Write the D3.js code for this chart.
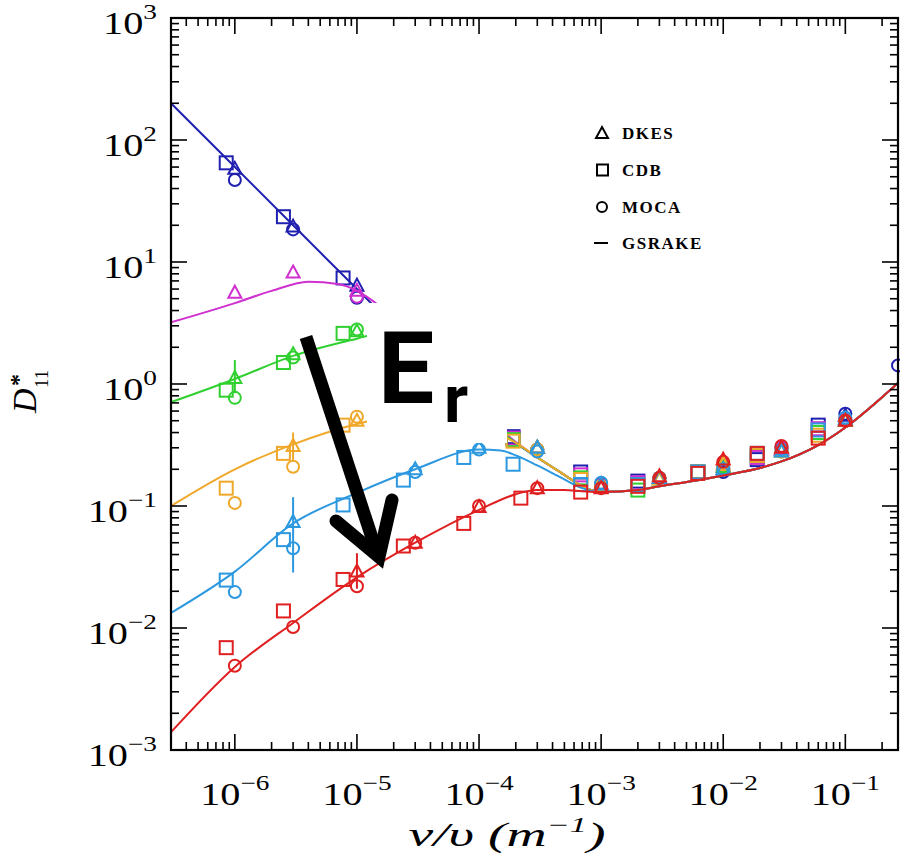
<!DOCTYPE html>
<html><head><meta charset="utf-8">
<script src="https://cdn.jsdelivr.net/npm/d3@7"></script>
<style>body{margin:0;background:#fff}svg{display:block}</style>
</head><body><svg id="c" width="900" height="861"></svg>
<script>
// ---------------- data ----------------
const xTickExps = [-6, -5, -4, -3, -2, -1];
const yTickExps = [-3, -2, -1, 0, 1, 2, 3];
const legendLabels = ["DKES", "CDB", "MOCA", "GSRAKE"];

// GSRAKE curves [nu/v, D11*]
const convergedTail = [[1e-3,0.13],[2e-3,0.135],[3e-3,0.145],[6e-3,0.162],[1e-2,0.178],[2e-2,0.205],[3e-2,0.232],[6e-2,0.316],[1e-1,0.44],[2e-1,0.78],[2.7e-1,1.02]];
const blueLine    = [[3e-7,200],[1e-6,60],[3e-6,20],[1e-5,6],[3e-5,2],[1e-4,0.6],[1.7e-4,0.38],[2e-4,0.33],[3e-4,0.25],[5e-4,0.18],[7e-4,0.145]];
const magentaLine = [[3e-7,3.2],[1e-6,4.6],[2e-6,5.8],[4e-6,6.9],[7e-6,6.6],[1e-5,5.8],[1.2e-5,5.2],[2e-5,3.5],[1e-4,0.7],[1.7e-4,0.38],[2e-4,0.335],[3e-4,0.25],[5e-4,0.18],[7e-4,0.145]];
const greenLine   = [[3e-7,0.71],[1e-6,1.1],[3e-6,1.7],[1e-5,2.35],[1.3e-5,2.5],[5e-5,1.5],[1.7e-4,0.37],[2e-4,0.33],[3e-4,0.25],[5e-4,0.18],[7e-4,0.145]];
const orangeLine  = [[3e-7,0.1],[1e-6,0.2],[3e-6,0.32],[1e-5,0.47],[1.3e-5,0.5],[5e-5,0.55],[1.7e-4,0.36],[2e-4,0.33],[3e-4,0.25],[5e-4,0.18],[7e-4,0.145]];
const cyanLine    = [[3e-7,0.0133],[1e-6,0.029],[3e-6,0.072],[1e-5,0.128],[3e-5,0.2],[1e-4,0.29],[1.5e-4,0.285],[2e-4,0.26],[3e-4,0.215],[5e-4,0.165],[7e-4,0.14]];
const redLine     = [[3e-7,0.0014],[1e-6,0.0048],[3e-6,0.011],[1e-5,0.026],[3e-5,0.05],[1e-4,0.093],[2e-4,0.125],[3e-4,0.135],[5e-4,0.135],[7e-4,0.132]];

// DKES (triangles), CDB (squares), MOCA (circles)
const blueDKES = [[1e-6,58],[3e-6,19.5],[1e-5,6.4],[3e-4,0.3],[1e-3,0.15],[3e-3,0.17],[1e-2,0.2],[3e-2,0.29],[1e-1,0.55]];
const blueCDB  = [[8.5e-7,65],[2.5e-6,23.5],[7.7e-6,7.4],[1.9e-4,0.37],[6.8e-4,0.19],[2e-3,0.16],[6.2e-3,0.19],[1.9e-2,0.24],[6e-2,0.46]];
const blueMOCA = [[1e-6,47],[3e-6,18.5],[1e-5,5.1],[3e-4,0.29],[1e-3,0.15],[3e-3,0.17],[1e-2,0.19],[3e-2,0.3],[1e-1,0.57],[2.7e-1,1.42]];

const magentaDKES = [[1e-6,5.6],[3e-6,8.2],[1e-5,5.8],[3e-4,0.3],[1e-3,0.15],[3e-3,0.17],[1e-2,0.21],[3e-2,0.29]];
const magentaCDB  = [[1.9e-4,0.36],[6.8e-4,0.18],[2e-3,0.155],[6.2e-3,0.19],[1.9e-2,0.25],[6e-2,0.43]];
const magentaMOCA = [[1e-5,5.2],[3e-4,0.29],[1e-3,0.148],[3e-3,0.17],[1e-2,0.2],[3e-2,0.3],[1e-1,0.52]];

const greenDKES = [[1e-6,1.12],[3e-6,1.75],[1e-5,2.7],[3e-4,0.3],[1e-3,0.145],[3e-3,0.165],[1e-2,0.21],[3e-2,0.28],[1e-1,0.5]];
const greenCDB  = [[8.5e-7,0.89],[2.5e-6,1.5],[7.7e-6,2.6],[1.9e-4,0.35],[6.8e-4,0.17],[2e-3,0.135],[6.2e-3,0.19],[1.9e-2,0.26],[6e-2,0.4]];
const greenMOCA = [[1e-6,0.77],[3e-6,1.65],[1e-5,2.8],[3e-4,0.29],[1e-3,0.145],[3e-3,0.17],[1e-2,0.21],[3e-2,0.28],[1e-1,0.5]];

const orangeDKES = [[3e-6,0.31],[1e-5,0.5],[3e-4,0.3],[1e-3,0.145],[3e-3,0.165],[1e-2,0.22],[3e-2,0.28]];
const orangeCDB  = [[8.5e-7,0.14],[2.5e-6,0.27],[7.7e-6,0.46],[1.9e-4,0.34],[6.8e-4,0.165],[2e-3,0.15],[6.2e-3,0.19],[1.9e-2,0.26],[6e-2,0.38]];
const orangeMOCA = [[1e-6,0.106],[3e-6,0.21],[1e-5,0.54],[3e-4,0.29],[1e-3,0.145],[3e-3,0.17],[1e-2,0.22],[3e-2,0.28],[1e-1,0.5]];

const cyanDKES = [[3e-6,0.074],[3e-5,0.2],[1e-4,0.3],[3e-4,0.3],[1e-3,0.15],[3e-3,0.17],[1e-2,0.2],[3e-2,0.28],[1e-1,0.52]];
const cyanCDB  = [[8.5e-7,0.0247],[2.5e-6,0.053],[7.7e-6,0.102],[2.4e-5,0.163],[7.5e-5,0.25],[1.9e-4,0.22],[6.8e-4,0.15],[2e-3,0.15],[6.2e-3,0.19],[1.9e-2,0.27],[6e-2,0.42]];
const cyanMOCA = [[1e-6,0.0197],[3e-6,0.045],[3e-5,0.19],[1e-4,0.29],[3e-4,0.28],[1e-3,0.155],[3e-3,0.17],[1e-2,0.2],[3e-2,0.29],[1e-1,0.53]];

const redDKES = [[1e-5,0.029],[3e-5,0.05],[1e-4,0.098],[3e-4,0.14],[1e-3,0.14],[3e-3,0.175],[1e-2,0.24],[3e-2,0.3],[1e-1,0.5]];
const redCDB  = [[8.5e-7,0.0069],[2.5e-6,0.0138],[7.7e-6,0.025],[2.4e-5,0.047],[7.5e-5,0.072],[2.2e-4,0.116],[6.8e-4,0.13],[2e-3,0.145],[6.2e-3,0.185],[1.9e-2,0.27],[6e-2,0.36]];
const redMOCA = [[1e-6,0.0049],[3e-6,0.0102],[1e-5,0.022],[3e-5,0.05],[1e-4,0.1],[3e-4,0.14],[1e-3,0.14],[3e-3,0.17],[1e-2,0.23],[3e-2,0.31],[1e-1,0.5]];

// error bars on DKES points [nu, low, high]
const greenErr  = [[1e-6,0.84,1.57]];
const orangeErr = [[3e-6,0.235,0.40]];
const cyanErr   = [[3e-6,0.0285,0.118]];
const redErr    = [[1e-5,0.021,0.041]];

const seriesColors = ["#2020b0","#d030d0","#30d030","#efa82a","#2c98e0","#e02020"];

const series = [
  {color: seriesColors[0], line: blueLine,    dkes: blueDKES,    cdb: blueCDB,    moca: blueMOCA,    err: []},
  {color: seriesColors[1], line: magentaLine, dkes: magentaDKES, cdb: magentaCDB, moca: magentaMOCA, err: []},
  {color: seriesColors[2], line: greenLine,   dkes: greenDKES,   cdb: greenCDB,   moca: greenMOCA,   err: greenErr},
  {color: seriesColors[3], line: orangeLine,  dkes: orangeDKES,  cdb: orangeCDB,  moca: orangeMOCA,  err: orangeErr},
  {color: seriesColors[4], line: cyanLine,    dkes: cyanDKES,    cdb: cyanCDB,    moca: cyanMOCA,    err: cyanErr},
  {color: seriesColors[5], line: redLine,     dkes: redDKES,     cdb: redCDB,     moca: redMOCA,     err: redErr}
];

// ---------------- drawing ----------------
const svg = d3.select("#c");
const L = 171, R = 898, T = 18, B = 750;
const x = d3.scaleLog().domain([3e-7, 0.27]).range([L, R]);
const y = d3.scaleLog().domain([1e-3, 1e3]).range([B, T]);

svg.append("defs").append("clipPath").attr("id","pc")
  .append("rect").attr("x",L).attr("y",T).attr("width",R-L).attr("height",B-T);

const plot = svg.append("g");
const lineGen = d3.line().x(d=>x(d[0])).y(d=>y(d[1])).curve(d3.curveMonotoneX);
const triPath = "M0,-7L6.5,5L-6.5,5Z";

series.forEach(s => {
  plot.append("path").attr("clip-path","url(#pc)")
    .attr("d", lineGen(s.line.concat(convergedTail)))
    .attr("fill","none").attr("stroke",s.color).attr("stroke-width",2);
  const g = plot.append("g").attr("fill","none").attr("stroke",s.color).attr("stroke-width",2);
  g.selectAll(".eb").data(s.err).enter().append("line")
    .attr("x1",d=>x(d[0])).attr("x2",d=>x(d[0])).attr("y1",d=>y(d[1])).attr("y2",d=>y(d[2]));
  g.selectAll(".sq").data(s.cdb).enter().append("rect")
    .attr("x",d=>x(d[0])-6.5).attr("y",d=>y(d[1])-6.5).attr("width",13).attr("height",13);
  g.selectAll(".ci").data(s.moca).enter().append("circle")
    .attr("cx",d=>x(d[0])).attr("cy",d=>y(d[1])).attr("r",6);
  g.selectAll(".tr").data(s.dkes).enter().append("path")
    .attr("d",triPath).attr("transform",d=>`translate(${x(d[0])},${y(d[1])})`);
});

// ---------- axes ----------
const axes = svg.append("g").attr("stroke","#000");
const xMinor = [], yMinor = [];
for (let e = -7; e <= -1; e++) for (let m = 2; m <= 9; m++) { const v = m*Math.pow(10,e); if (v>=3e-7 && v<=0.27) xMinor.push(v); }
for (let e = -3; e <= 2; e++) for (let m = 2; m <= 9; m++) yMinor.push(m*Math.pow(10,e));
const xMajor = xTickExps.map(e=>Math.pow(10,e));
const yMajor = yTickExps.map(e=>Math.pow(10,e));

function ticksX(vals, len) {
  vals.forEach(v => {
    axes.append("line").attr("x1",x(v)).attr("x2",x(v)).attr("y1",B).attr("y2",B-len).attr("stroke-width",1.6);
    axes.append("line").attr("x1",x(v)).attr("x2",x(v)).attr("y1",T).attr("y2",T+len).attr("stroke-width",1.6);
  });
}
function ticksY(vals, len) {
  vals.forEach(v => {
    axes.append("line").attr("y1",y(v)).attr("y2",y(v)).attr("x1",L).attr("x2",L+len).attr("stroke-width",1.6);
    axes.append("line").attr("y1",y(v)).attr("y2",y(v)).attr("x1",R).attr("x2",R-len).attr("stroke-width",1.6);
  });
}
ticksX(xMinor, 8); ticksX(xMajor, 16);
ticksY(yMinor, 8); ticksY(yMajor, 16);
axes.append("rect").attr("x",L).attr("y",T).attr("width",R-L).attr("height",B-T)
  .attr("fill","none").attr("stroke-width",2.2);

// tick labels
const fontSerif = "'Liberation Serif', 'DejaVu Serif', serif";
function powLabel(g, e, anchor) {
  const t = g.append("text").attr("font-family",fontSerif).attr("fill","#000").attr("text-anchor",anchor);
  t.append("tspan").attr("font-size",31).text("10");
  t.append("tspan").attr("font-size",21).attr("dy",-15).text(e<0 ? "\u2212"+(-e) : String(e));
}
xTickExps.forEach(e => {
  const g = svg.append("g").attr("transform",`translate(${x(Math.pow(10,e))},805) scale(1.3,1)`);
  powLabel(g, e, "middle");
});
yTickExps.forEach(e => {
  const g = svg.append("g").attr("transform",`translate(157,${y(Math.pow(10,e))+16}) scale(1.3,1)`);
  powLabel(g, e, "end");
});

// axis titles
const xt = svg.append("text").attr("x",507).attr("y",846).attr("text-anchor","middle")
  .attr("font-family",fontSerif).attr("font-style","italic").attr("font-size",34).attr("fill","#000");
xt.append("tspan").text("\u03BD/\u03C5 (m");
xt.append("tspan").attr("font-size",21).attr("dy",-14).text("\u22121");
xt.append("tspan").attr("dy",14).text(")");
xt.attr("textLength",197).attr("lengthAdjust","spacingAndGlyphs");

const yt = svg.append("g").attr("transform","translate(36,413) rotate(-90)");
yt.append("text").attr("font-family",fontSerif).attr("font-style","italic").attr("font-size",34).attr("fill","#000").text("D");
yt.append("text").attr("x",25).attr("y",12).attr("font-family",fontSerif).attr("font-size",19).attr("fill","#000").text("11");
yt.append("text").attr("x",27).attr("y",-10).attr("font-family",fontSerif).attr("font-size",24).attr("font-weight","bold").attr("fill","#000").text("*");

// legend
const lg = svg.append("g").attr("stroke","#000").attr("fill","none").attr("stroke-width",2);
const legY = [133, 170, 207, 243];
lg.append("path").attr("d","M0,-6L6,5L-6,5Z").attr("transform",`translate(602,${legY[0]})`);
lg.append("rect").attr("x",597).attr("y",legY[1]-5.5).attr("width",11).attr("height",11);
lg.append("circle").attr("cx",602).attr("cy",legY[2]).attr("r",5);
lg.append("line").attr("x1",594).attr("x2",608).attr("y1",legY[3]).attr("y2",legY[3]);
legendLabels.forEach((t,i) => {
  svg.append("text").attr("x",622).attr("y",legY[i]+6).attr("font-family",fontSerif)
    .attr("font-weight","bold").attr("font-size",17).attr("letter-spacing",1.5).attr("fill","#000").text(t);
});

// annotation: E_r box and arrow
svg.append("rect").attr("x",367).attr("y",303).attr("width",140).attr("height",140).attr("fill","#fff");
svg.append("text").attr("x",378).attr("y",403).attr("font-family","Roboto, 'Liberation Sans', Arial, sans-serif")
  .attr("font-weight",700).attr("font-size",100).attr("fill","#000").text("E");
svg.append("text").attr("x",444).attr("y",422).attr("font-family","Roboto, 'Liberation Sans', Arial, sans-serif")
  .attr("font-weight",700).attr("font-size",66).attr("fill","#000").text("r");
svg.append("line").attr("x1",306).attr("y1",337).attr("x2",378).attr("y2",556)
  .attr("stroke","#000").attr("stroke-width",13);
svg.append("path").attr("d","M336,521L379,557L392,500").attr("fill","none")
  .attr("stroke","#000").attr("stroke-width",13).attr("stroke-linecap","round").attr("stroke-linejoin","miter");
</script></body></html>
